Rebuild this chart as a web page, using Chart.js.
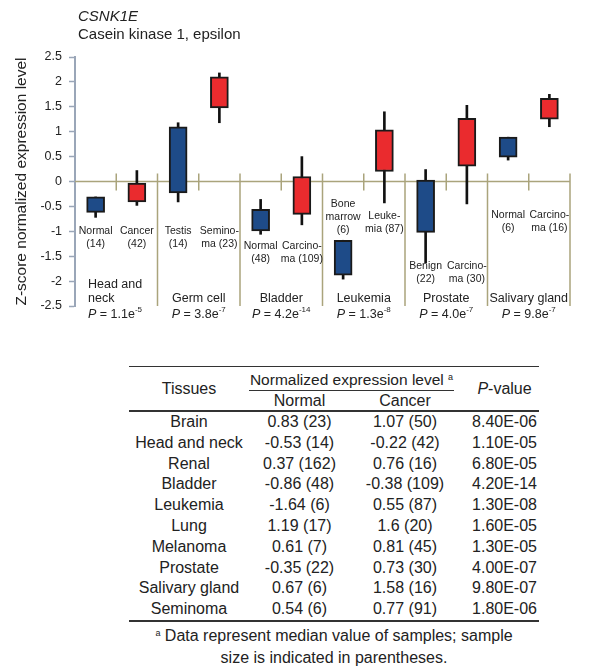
<!DOCTYPE html>
<html>
<head>
<meta charset="utf-8">
<script src="https://cdn.jsdelivr.net/npm/chart.js@4.4.1/dist/chart.umd.min.js"></script>
<style>
  body { margin: 0; background: #fff; font-family: "Liberation Sans", Arial, sans-serif; color: #222; }
  #wrap { position: relative; width: 600px; height: 672px; }
  #chart { position: absolute; left: 0; top: 0; }
  #tbl { position: absolute; left: 129px; top: 366px; width: 410px; border-collapse: collapse; font-size: 16px; }
  #tbl th, #tbl td { padding: 0; font-weight: normal; text-align: center; white-space: nowrap; }
  #tbl thead tr:first-child th { border-top: 1.5px solid #333; height: 21px; }
  #tbl thead tr:last-child th { height: 19px; }
  #tbl thead { border-bottom: 2px solid #333; }
  #tbl tbody { border-bottom: 2px solid #333; }
  #tbl tbody td { height: 20.8px; line-height: 20.8px; }
  #tbl .span { border-bottom: 1.5px solid #333; margin-right: 6px; line-height: 20px; font-size: 15.5px; }
  #tbl sup { font-size: 9px; vertical-align: 5px; }
  #note { position: absolute; left: 129px; top: 622px; width: 410px; text-align: center; font-size: 16px; line-height: 22px; }
  #note sup { font-size: 9px; vertical-align: 5px; }
</style>
</head>
<body>
<div id="wrap">
  <canvas id="chart" width="600" height="330"></canvas>
  <table id="tbl">
    <colgroup><col style="width:120px"><col style="width:101px"><col style="width:110px"><col style="width:79px"></colgroup>
    <thead>
      <tr><th rowspan="2">Tissues</th><th colspan="2"><div class="span">Normalized expression level <sup>a</sup></div></th><th rowspan="2" style="padding-left:10px"><i>P</i>-value</th></tr>
      <tr><th>Normal</th><th>Cancer</th></tr>
    </thead>
    <tbody id="rows"></tbody>
  </table>
  <div id="note"><sup>a</sup> Data represent median value of samples; sample<br>size is indicated in parentheses.</div>
</div>
<script>
// chart data
const categories = ["HN normal", "HN cancer", "Testis", "Seminoma", "Bladder normal", "Bladder carcinoma",
  "Bone marrow", "Leukemia", "Prostate benign", "Prostate carcinoma", "Salivary normal", "Salivary carcinoma"];
const boxLow = [-0.62, -0.41, -0.23, 1.48, -0.99, -0.66, -1.88, 0.20, -1.02, 0.31, 0.49, 1.25];
const boxHigh = [-0.31, -0.03, 1.10, 2.10, -0.56, 0.10, -1.18, 1.04, 0.03, 1.27, 0.89, 1.67];
const whiskerLow = [-0.72, -0.48, -0.41, 1.18, -1.06, -0.87, -1.96, -0.43, -1.63, -0.45, 0.43, 1.10];
const whiskerHigh = [-0.31, 0.22, 1.18, 2.18, -0.36, 0.50, -1.18, 1.40, 0.24, 1.53, 0.89, 1.75];
const sampleLabels = [["Normal", "(14)"], ["Cancer", "(42)"], ["Testis", "(14)"], ["Semino-", "ma (23)"],
  ["Normal", "(48)"], ["Carcino-", "ma (109)"], ["Bone", "marrow", "(6)"], ["Leuke-", "mia (87)"],
  ["Benign", "(22)"], ["Carcino-", "ma (30)"], ["Normal", "(6)"], ["Carcino-", "ma (16)"]];
const groupNames = [["Head and", "neck"], ["Germ cell"], ["Bladder"], ["Leukemia"], ["Prostate"], ["Salivary gland"]];
const groupP = [["1.1", "-5"], ["3.8", "-7"], ["4.2", "-14"], ["1.3", "-8"], ["4.0", "-7"], ["9.8", "-7"]];
const yTicks = [-2.5, -2, -1.5, -1, -0.5, 0, 0.5, 1, 1.5, 2, 2.5];

// table data
const tissues = ["Brain", "Head and neck", "Renal", "Bladder", "Leukemia", "Lung", "Melanoma", "Prostate", "Salivary gland", "Seminoma"];
const normalVals = ["0.83 (23)", "-0.53 (14)", "0.37 (162)", "-0.86 (48)", "-1.64 (6)", "1.19 (17)", "0.61 (7)", "-0.35 (22)", "0.67 (6)", "0.54 (6)"];
const cancerVals = ["1.07 (50)", "-0.22 (42)", "0.76 (16)", "-0.38 (109)", "0.55 (87)", "1.6 (20)", "0.81 (45)", "0.73 (30)", "1.58 (16)", "0.77 (91)"];
const pValues = ["8.40E-06", "1.10E-05", "6.80E-05", "4.20E-14", "1.30E-08", "1.60E-05", "1.30E-05", "4.00E-07", "9.80E-07", "1.80E-06"];

// layout (value units on the y scale)
const sampleLabelY = [-1.0, -1.0, -1.0, -1.0, -1.3, -1.3, -0.46, -0.7, -1.7, -1.7, -0.68, -0.68];
const BLUE = "#1e4b88", RED = "#ea2b2e", OLIVE = "#aaa47c", AXIS = "#9aa6b8";
const FONT = '"Liberation Sans", Arial, sans-serif';

const tbody = document.getElementById("rows");
tissues.forEach((t, i) => {
  const tr = document.createElement("tr");
  [t, normalVals[i], cancerVals[i], pValues[i]].forEach((v, j) => {
    const td = document.createElement("td");
    td.textContent = v;
    if (j === 3) td.style.paddingLeft = "10px";
    tr.appendChild(td);
  });
  tbody.appendChild(tr);
});

function drawP(ctx, p, cx, cy, align) {
  const parts = [["italic 12.5px " + FONT, "P", 0], ["12.5px " + FONT, " = " + p[0] + "e", 0], ["8px " + FONT, p[1], -5]];
  let w = 0;
  parts.forEach(([f, s]) => { ctx.font = f; w += ctx.measureText(s).width; });
  let x0 = align === "left" ? cx : cx - w / 2;
  ctx.textAlign = "left";
  parts.forEach(([f, s, dy]) => {
    ctx.font = f;
    ctx.fillText(s, x0, cy + dy);
    x0 += ctx.measureText(s).width;
  });
}

const deco = {
  id: "deco",
  beforeDatasetsDraw(chart) {
    const { ctx, chartArea, scales: { x, y } } = chart;
    const step = x.getPixelForValue(1) - x.getPixelForValue(0);
    ctx.save();
    ctx.strokeStyle = OLIVE;
    ctx.lineWidth = 1.5;
    ctx.beginPath();
    ctx.moveTo(chartArea.left, y.getPixelForValue(0));
    ctx.lineTo(chartArea.right, y.getPixelForValue(0));
    for (let g = 0; g < groupNames.length; g++) {
      const xs = x.getPixelForValue(2 * g + 1) + step / 2;
      ctx.moveTo(xs, y.getPixelForValue(0.16));
      ctx.lineTo(xs, y.getPixelForValue(-2.5));
      const xm = x.getPixelForValue(2 * g) + step / 2;
      ctx.moveTo(xm, y.getPixelForValue(0.16));
      ctx.lineTo(xm, y.getPixelForValue(-0.18));
    }
    ctx.stroke();
    ctx.restore();
  },
  afterDraw(chart) {
    const { ctx, chartArea, scales: { x, y } } = chart;
    ctx.save();
    ctx.fillStyle = "#222";
    ctx.textBaseline = "middle";

    // titles
    ctx.textAlign = "left";
    ctx.font = "italic 15px " + FONT;
    ctx.fillText("CSNK1E", 78, 17);
    ctx.font = "15px " + FONT;
    ctx.fillText("Casein kinase 1, epsilon", 78, 35);

    // y axis title
    ctx.save();
    ctx.translate(22, y.getPixelForValue(0));
    ctx.rotate(-Math.PI / 2);
    ctx.textAlign = "center";
    ctx.font = "15.5px " + FONT;
    ctx.fillText("Z-score normalized expression level", 0, 0);
    ctx.restore();

    // sample labels
    ctx.font = "10.5px " + FONT;
    ctx.textAlign = "center";
    sampleLabels.forEach((lines, i) => {
      const cx = x.getPixelForValue(i);
      const y0 = y.getPixelForValue(sampleLabelY[i]);
      lines.forEach((s, k) => ctx.fillText(s, cx, y0 + k * 12.7));
    });

    // group labels and P values
    groupNames.forEach((lines, g) => {
      const cx = (x.getPixelForValue(2 * g) + x.getPixelForValue(2 * g + 1)) / 2;
      const yName = y.getPixelForValue(-2.36);
      const yP = y.getPixelForValue(-2.68);
      ctx.font = "12.5px " + FONT;
      if (g === 0) {
        const lx = chartArea.left + 13;
        ctx.textAlign = "left";
        ctx.fillText(lines[0], lx, yName - 14);
        ctx.fillText(lines[1], lx, yName);
        drawP(ctx, groupP[g], lx, yP, "left");
      } else {
        ctx.textAlign = "center";
        ctx.fillText(lines[0], cx, yName);
        drawP(ctx, groupP[g], cx, yP, "center");
      }
    });
    ctx.restore();
  }
};

new Chart(document.getElementById("chart"), {
  type: "bar",
  data: {
    labels: categories,
    datasets: [
      {
        label: "box",
        data: boxLow.map((v, i) => [v, boxHigh[i]]),
        backgroundColor: categories.map((c, i) => (i % 2 === 0 ? BLUE : RED)),
        borderColor: "#1a1a1a",
        borderWidth: 2,
        borderSkipped: false,
        barThickness: 18,
        grouped: false,
        order: 0
      },
      {
        label: "range",
        data: whiskerLow.map((v, i) => [v, whiskerHigh[i]]),
        backgroundColor: "#111",
        borderWidth: 0,
        barThickness: 2,
        grouped: false,
        order: 1
      }
    ]
  },
  options: {
    responsive: false,
    animation: false,
    layout: { padding: { left: 0, top: 57, right: 30, bottom: 24 } },
    plugins: { legend: { display: false }, tooltip: { enabled: false } },
    scales: {
      x: { display: false },
      y: {
        min: -2.5,
        max: 2.5,
        afterFit(scale) { scale.width = 75; },
        afterBuildTicks(scale) { scale.ticks = yTicks.map(v => ({ value: v })); },
        ticks: { color: "#222", font: { family: FONT, size: 12.5 }, padding: 7, callback: v => String(v) },
        grid: { drawOnChartArea: false, tickLength: 6, color: AXIS, tickWidth: 1.5 },
        border: { color: AXIS, width: 2 }
      }
    }
  },
  plugins: [deco]
});
</script>
</body>
</html>
